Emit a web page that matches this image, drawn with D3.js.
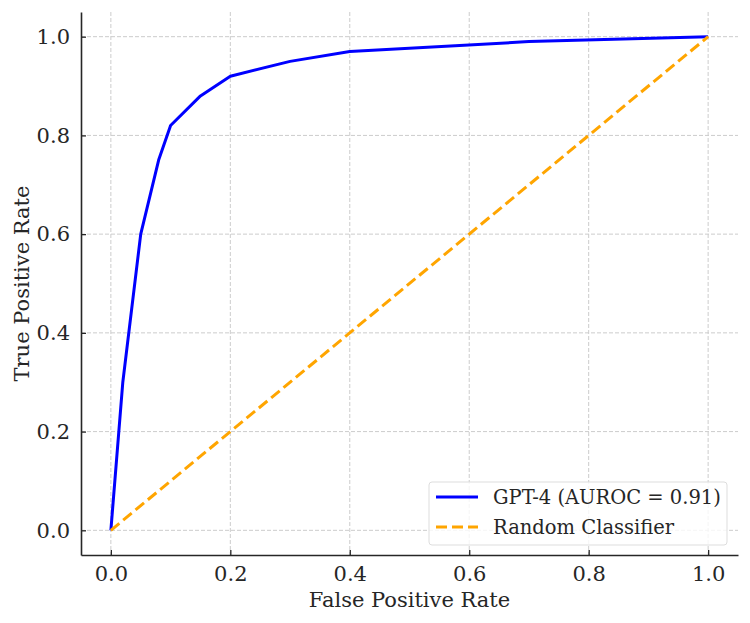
<!DOCTYPE html>
<html>
<head>
<meta charset="utf-8">
<script src="https://cdn.jsdelivr.net/npm/d3@7"></script>
<style>
  body { margin: 0; background: #fff; }
  svg text { font-family: "DejaVu Serif", serif; fill: #262626; }
</style>
</head>
<body>
<div id="chart"></div>
<script>
// ROC curve points
var fpr = [0, 0.02, 0.05, 0.08, 0.1, 0.15, 0.2, 0.3, 0.4, 0.7, 1.0];
var tpr = [0, 0.30, 0.60, 0.75, 0.82, 0.88, 0.92, 0.95, 0.97, 0.99, 1.0];
var randomLine = [[0, 0], [1, 1]];
var ticks = [0, 0.2, 0.4, 0.6, 0.8, 1.0];
var seriesNames = ["GPT-4 (AUROC = 0.91)", "Random Classifier"];

var w = 750, h = 623;
var plotLeft = 81, plotRight = 738, plotTop = 12, plotBottom = 555;

var svg = d3.select("#chart").append("svg")
  .attr("width", w)
  .attr("height", h);

var x = d3.scaleLinear().domain([-0.05, 1.05]).range([plotLeft, plotRight]);
var y = d3.scaleLinear().domain([-0.05, 1.05]).range([plotBottom, plotTop]);

// grid
svg.append("g").selectAll("line")
  .data(ticks)
  .enter().append("line")
  .attr("x1", function(d){return x(d);})
  .attr("x2", function(d){return x(d);})
  .attr("y1", plotTop).attr("y2", plotBottom)
  .style("stroke", "#cccccc").style("stroke-width", 1)
  .style("stroke-dasharray", "4,2");
svg.append("g").selectAll("line")
  .data(ticks)
  .enter().append("line")
  .attr("y1", function(d){return y(d);})
  .attr("y2", function(d){return y(d);})
  .attr("x1", plotLeft).attr("x2", plotRight)
  .style("stroke", "#cccccc").style("stroke-width", 1)
  .style("stroke-dasharray", "4,2");

// lines
var line = d3.line()
  .x(function(d){return x(d[0]);})
  .y(function(d){return y(d[1]);});

svg.append("path")
  .datum(fpr.map(function(d, i){return [d, tpr[i]];}))
  .attr("d", line)
  .style("fill", "none").style("stroke", "#0000ff")
  .style("stroke-width", 3).style("stroke-linejoin", "round");

svg.append("path")
  .datum(randomLine)
  .attr("d", line)
  .style("fill", "none").style("stroke", "#ffa500")
  .style("stroke-width", 3).style("stroke-dasharray", "11,5");

// axes, ticks pointing inward
var xAxis = d3.axisBottom(x).tickValues(ticks).tickFormat(d3.format(".1f"))
  .tickSizeInner(-5).tickSizeOuter(0).tickPadding(11);
var yAxis = d3.axisLeft(y).tickValues(ticks).tickFormat(d3.format(".1f"))
  .tickSizeInner(-5).tickSizeOuter(0).tickPadding(11);

var gx = svg.append("g").attr("transform", "translate(0," + plotBottom + ")").call(xAxis);
var gy = svg.append("g").attr("transform", "translate(" + plotLeft + ",0)").call(yAxis);
[gx, gy].forEach(function(g){
  g.select(".domain").style("stroke", "#262626").style("stroke-width", 1.6);
  g.selectAll(".tick line").style("stroke", "#262626").style("stroke-width", 1.3);
  g.selectAll(".tick text").style("font-size", "21px")
    .style("font-family", "DejaVu Serif").style("fill", "#262626");
});

// axis titles
svg.append("text")
  .attr("x", (plotLeft + plotRight) / 2).attr("y", 607)
  .attr("text-anchor", "middle")
  .style("font-size", "21px")
  .text("False Positive Rate");
svg.append("text")
  .attr("transform", "translate(29," + ((plotTop + plotBottom) / 2) + ") rotate(-90)")
  .attr("text-anchor", "middle")
  .style("font-size", "21px")
  .text("True Positive Rate");

// legend
var lg = svg.append("g");
lg.append("rect")
  .attr("x", 429).attr("y", 482).attr("width", 298).attr("height", 63)
  .attr("rx", 3)
  .style("fill", "#fff").style("fill-opacity", 0.8)
  .style("stroke", "#dddddd").style("stroke-width", 1);
var legendStyles = [
  {color: "#0000ff", dash: null},
  {color: "#ffa500", dash: "11,5"}
];
seriesNames.forEach(function(name, i){
  var ly = 497 + i * 30;
  lg.append("line")
    .attr("x1", 436).attr("x2", 478).attr("y1", ly).attr("y2", ly)
    .style("stroke", legendStyles[i].color).style("stroke-width", 3)
    .style("stroke-dasharray", legendStyles[i].dash);
  lg.append("text")
    .attr("x", 493).attr("y", ly).attr("dy", "0.35em")
    .style("font-size", "19.5px")
    .text(name);
});
</script>
</body>
</html>
